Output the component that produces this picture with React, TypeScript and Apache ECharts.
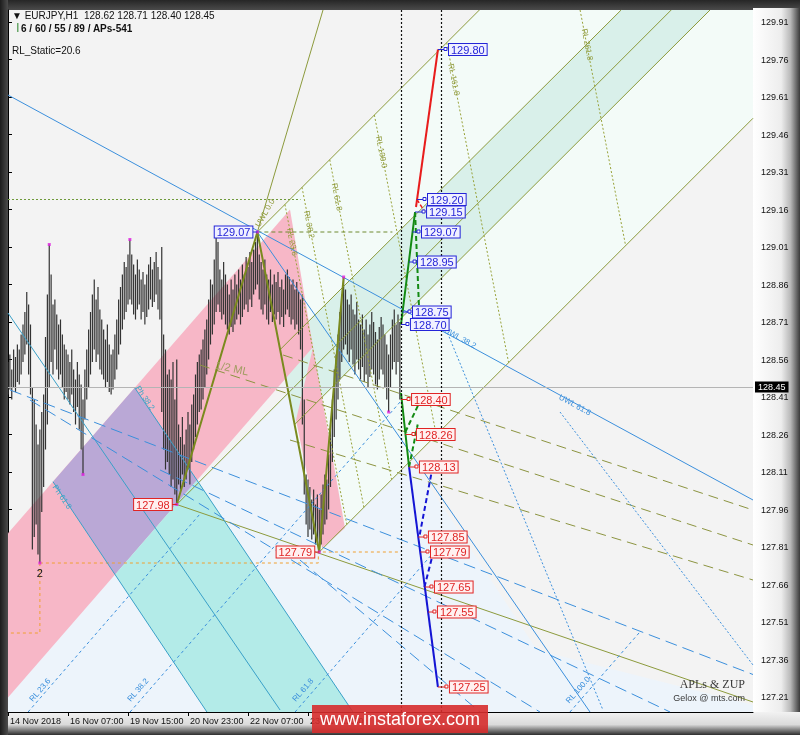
import React, { useEffect, useRef } from 'react';
import * as echarts from 'echarts';

// ---------------- DATA ----------------
// H1 bars: index 0 = 14 Nov 2018 23:00
const barHigh: number[] = [
  128.55, 128.58, 128.52, 128.60, 128.57, 128.62, 128.60,
  128.66, 128.70, 128.75, 128.83,
  128.78, 128.70, 128.45,
  128.40, 128.30, 128.22, 128.28, 128.35, 128.42,
  128.65, 128.82, 129.02,
  128.90, 128.78, 128.80, 128.74, 128.70, 128.72, 128.66, 128.62, 128.60,
  128.58, 128.55, 128.60, 128.52, 128.48, 128.55, 128.50, 128.46, 128.40,
  128.52, 128.60, 128.68, 128.75, 128.82, 128.88, 128.80, 128.85, 128.76,
  128.72, 128.68, 128.64, 128.70, 128.62, 128.58, 128.60, 128.66,
  128.72, 128.80, 128.85, 128.90, 128.95, 128.93, 128.98, 129.04,
  128.98, 128.94, 128.90, 128.96, 128.92, 128.88, 128.91, 128.86, 128.90, 128.94, 128.97, 128.92, 128.95, 128.99, 128.93, 128.88, 129.01,
  128.66, 128.60, 128.50, 128.52, 128.48, 128.55, 128.40, 128.56,
  128.30, 128.25, 128.33, 128.22, 128.28, 128.35, 128.30, 128.38, 128.42, 128.50,
  128.55, 128.58, 128.60, 128.64, 128.68, 128.72, 128.80, 128.88, 128.86, 128.96, 129.05,
  129.03, 128.92, 128.88, 128.95, 128.90, 128.86, 128.82, 128.88, 128.84, 128.90, 128.86, 128.92, 128.88, 128.94, 128.90, 128.97, 128.93, 128.99, 128.95, 129.00, 129.03, 129.07,
  128.98, 128.95, 128.92, 128.96, 128.90, 128.88, 128.92, 128.86, 128.90, 128.87, 128.91, 128.85, 128.88, 128.84, 128.90, 128.92, 128.89, 128.86, 128.88, 128.84, 128.87, 128.83, 128.80,
  128.82, 128.40, 128.10, 128.08, 128.05, 128.00, 128.04, 127.98, 128.02, 127.96,
  128.02, 128.06, 128.10, 128.08, 128.18, 128.30, 128.40, 128.52, 128.58, 128.66, 128.75, 128.82, 128.89,
  128.84, 128.80, 128.78, 128.82, 128.76, 128.74, 128.79, 128.72, 128.70, 128.74, 128.68, 128.72, 128.66, 128.70, 128.75, 128.71, 128.67, 128.64, 128.69, 128.73, 128.70, 128.66, 128.62, 128.58, 128.66, 128.72, 128.76, 128.70, 128.74, 128.71,
];
const barLow: number[] = [
  128.42, 128.44, 128.40, 128.45, 128.43, 128.47, 128.46,
  128.50, 128.55, 128.58, 128.62,
  128.50, 128.42, 127.80,
  127.85, 127.90, 127.78, 127.746, 127.95, 128.05,
  128.20, 128.30, 128.45,
  128.55, 128.50, 128.60, 128.52, 128.48, 128.50, 128.45, 128.40, 128.43,
  128.40, 128.38, 128.42, 128.35, 128.30, 128.37, 128.28, 128.20, 128.10,
  128.32, 128.40, 128.45, 128.50, 128.55, 128.60, 128.55, 128.58, 128.52,
  128.50, 128.48, 128.45, 128.47, 128.43, 128.42, 128.44, 128.48,
  128.52, 128.58, 128.62, 128.68, 128.72, 128.75, 128.78, 128.80,
  128.78, 128.74, 128.72, 128.76, 128.78, 128.72, 128.75, 128.70, 128.73, 128.76, 128.80, 128.77, 128.79, 128.82, 128.76, 128.72, 128.35,
  128.20, 128.12, 128.15, 128.10, 128.05, 128.08, 128.02, 127.98,
  128.06, 128.04, 128.10, 128.05, 128.08, 128.12, 128.06, 128.15, 128.20, 128.25,
  128.30, 128.35, 128.36, 128.40, 128.45, 128.50, 128.56, 128.62, 128.66, 128.70, 128.75,
  128.78, 128.75, 128.72, 128.74, 128.70, 128.68, 128.66, 128.69, 128.67, 128.70, 128.72, 128.74, 128.70, 128.73, 128.76, 128.78, 128.75, 128.80, 128.77, 128.82, 128.84, 128.86,
  128.80, 128.76, 128.74, 128.78, 128.72, 128.70, 128.75, 128.71, 128.74, 128.72, 128.75, 128.70, 128.73, 128.69, 128.74, 128.76, 128.73, 128.70, 128.72, 128.68, 128.70, 128.66, 128.60,
  128.30, 128.02, 127.90, 127.85, 127.88, 127.84, 127.86, 127.82, 127.83, 127.79,
  127.82, 127.86, 127.90, 127.92, 127.96, 128.05, 128.15, 128.25, 128.32, 128.40, 128.48, 128.55, 128.60,
  128.62, 128.58, 128.55, 128.60, 128.54, 128.50, 128.56, 128.52, 128.48, 128.53, 128.47, 128.50, 128.45, 128.49, 128.52, 128.50, 128.46, 128.44, 128.48, 128.52, 128.50, 128.45, 128.40, 128.35, 128.45, 128.52, 128.55, 128.50, 128.55, 128.40,
];

const priceTicks = [127.21, 127.36, 127.51, 127.66, 127.81, 127.96, 128.11, 128.26, 128.41, 128.56, 128.71, 128.86, 129.01, 129.16, 129.31, 129.46, 129.61, 129.76, 129.91];
const timeTickBars = [0, 32, 64, 96, 128, 160];
const timeTickLabels = ['14 Nov 2018', '16 Nov 07:00', '19 Nov 15:00', '20 Nov 23:00', '22 Nov 07:00', '23 Nov 15:00'];

const lastPrice = 128.45;
const nowBar = 209.6;
const targetBar = 230.8;

// ZUP zigzag pivots [bar, price]
const zupPivots = [[90, 127.98], [133, 129.07], [166, 127.79], [179, 128.89]];
const swingDots = [[22, 129.02], [40, 128.10], [65, 129.04], [179, 128.89], [203, 128.35], [17, 127.746], [90, 127.98], [166, 127.79], [133, 129.07]];

// zones (bar, price)
const zoneLightBlue = [[0, 127.31], [174.9, 128.622], [282.1, 127.398], [397.33, 127.178], [397.33, 127.15], [0, 127.15]];
const zoneFork = [[133, 129.07], [251.4, 129.958], [397.33, 129.958], [397.33, 129.525], [166, 127.79]];
const zoneForkBand = [[145.2, 128.6], [327, 129.958], [374.4, 129.958], [152.9, 128.3]];
const zonePink = [[0, 127.865], [150.4, 129.16], [162.7, 128.61], [0, 127.208]];
const zonePink2 = [[162.7, 128.61], [179.7, 127.886], [167.5, 127.806], [153.6, 128.318]];
const zonePurple = [[67.6, 128.447], [100.8, 128.078], [57.1, 127.7], [24.0, 128.071]];
const zoneTeal = [[100.8, 128.078], [184, 127.15], [106.1, 127.15], [57.1, 127.7]];

// pitchfork lines
const forkA = [[133, 129.07], [251.4, 129.958]];
const forkB = [[145.2, 128.6], [327, 129.958]];
const forkC = [[90, 127.98], [353.7, 129.958]];
const forkD = [[152.9, 128.3], [374.4, 129.958]];
const forkE = [[166, 127.79], [397.33, 129.525]];
const handleExt = [[133, 129.07], [168, 129.958]];
const lowLine = [[90, 127.98], [397.33, 127.19]];
const reactionLines = [
  [[147.7, 129.18], [180.7, 127.9]],
  [[156.8, 129.249], [189.8, 127.969]],
  [[171.6, 129.359], [204.6, 128.079]],
  [[195.4, 129.538], [228.4, 128.258]],
  [[234, 129.827], [267, 128.547]],
  [[305.1, 129.958], [329.4, 129.015]],
];
const halfMl = [
  [[146.7, 128.578], [397.33, 127.958]],
  [[102.4, 128.538], [397.33, 127.818]],
  [[150.4, 128.238], [397.33, 127.678]],
];
const level1292 = [[0, 129.2], [156, 129.2]];
const peakLevel = [[133, 129.07], [205, 129.07]];
const orangeA = [[17, 127.746], [165.5, 127.746], [165.5, 127.79], [209.6, 127.79]];
const orangeB = [[17, 127.746], [17, 127.466], [0, 127.466]];

const blueSolid = [
  [[0, 129.618], [397.33, 127.998]],
  [[133, 129.07], [310.4, 127.15]],
];
const tealSolid = [
  [[0, 128.746], [145.1, 127.158]],
  [[67.6, 128.447], [184, 127.15]],
  [[24.0, 128.071], [106.1, 127.15]],
];
const blueDotted = [
  [[232, 128.71], [317.3, 127.158]],
  [[294.4, 128.35], [397.33, 127.338]],
];
const blueShortDash = [
  [[10.7, 127.15], [102.4, 127.942]],
  [[65.1, 127.15], [209.1, 128.39]],
  [[153.1, 127.15], [230.4, 127.818]],
  [[299.7, 127.15], [337, 127.47]],
];
const blueLongDash = [
  [[1.1, 128.438], [397.33, 127.3]],
  [[11.7, 128.398], [283.7, 127.15]],
  [[81.1, 128.118], [353.1, 127.15]],
  [[155.7, 127.758], [251.7, 127.15]],
];

// projections
const projGreenUp = [[209.6, 128.7], [217.1, 129.15]];
const projRedUp = [[217.6, 129.17], [229.3, 129.8]];
const projGreenUpDash = [[217.1, 129.15], [219.2, 128.77]];
const projRedUpDash = [[218.1, 129.2], [222.4, 129.15]];
const projGreenDown = [[209.6, 128.426], [213.9, 128.13]];
const projGreenDownDash = [
  [[213.9, 128.13], [218.5, 128.3]],
  [[211.9, 128.27], [221.5, 128.42]],
];
const projBlueDown = [[213.9, 128.13], [229.3, 127.25]];
const projBlueDownDash = [
  [[219.6, 127.86], [226.2, 128.12]],
  [[222.1, 127.65], [227.2, 127.8]],
];

// [price, target bar, box bar]
const upLabels = [[129.8, 229.3, 235.2], [129.2, 218.1, 224.0], [129.15, 217.1, 223.5], [129.07, 215.8, 220.8], [128.95, 213.8, 218.7], [128.75, 210.4, 216.0], [128.7, 209.6, 214.9]];
const downLabels = [[128.4, 209.6, 215.5], [128.26, 212.0, 218.1], [128.13, 213.9, 219.7], [127.85, 218.8, 224.5], [127.79, 219.9, 225.6], [127.65, 222.3, 227.7], [127.55, 224.1, 229.3], [127.25, 229.3, 235.7]];
// [price, pivot bar, colour kind]
const pivotLabels: [number, number, string][] = [[129.07, 133, 'up'], [127.98, 90, 'down'], [127.79, 166, 'down']];

// [text, bar, price, rotation deg, kind]
const annotations: [string, number, number, number, string][] = [
  ['UWL 0.0', 137.1, 129.146, 60, 'olive'],
  ['RL 23.6', 151.5, 129.03, -79, 'olive'],
  ['RL 38.2', 160.6, 129.1, -79, 'olive'],
  ['RL 61.8', 175.4, 129.21, -79, 'olive'],
  ['RL 100.0', 199.2, 129.39, -79, 'olive'],
  ['RL 161.8', 237.8, 129.68, -79, 'olive'],
  ['RL 261.8', 308.9, 129.82, -79, 'olive'],
  ['UWL 38.2', 241.1, 128.646, -29, 'blue'],
  ['UWL 61.8', 302.4, 128.378, -29, 'blue'],
  ['Ph 38.2', 73.1, 128.406, -56, 'teal'],
  ['Ph 61.8', 28.8, 128.01, -56, 'teal'],
  ['RL 23.6', 17.1, 127.238, 49, 'blue'],
  ['RL 38.2', 69.3, 127.238, 49, 'blue'],
  ['RL 61.8', 157.3, 127.238, 49, 'blue'],
  ['RL 100.0', 304, 127.238, 49, 'blue'],
];
const halfMlLabel: [string, number, number] = ['1/2 ML', 119.5, 128.526];
const waveLabel: [string, number, number] = ['2', 17, 127.73];

// ---------------- CHART ----------------
const OLIVE = '#8c9a3c';
const BLUE = '#3b8fdc';
const TEAL = '#3aa0c8';
const LBL_BLUE = '#2424d8';
const LBL_RED = '#e02424';
const FONT = '"Liberation Sans", "DejaVu Sans", sans-serif';

function lineS(pts: number[][], color: string, width: number, type: any = 'solid', z = 3): any {
  return {
    type: 'line', data: pts, symbol: 'none', silent: true, clip: true, z,
    lineStyle: { color, width, type }, emphasis: { disabled: true },
  };
}

function zoneS(pts: number[][], fill: string, z: number): any {
  return {
    type: 'custom', coordinateSystem: 'cartesian2d', clip: true, silent: true, z,
    data: [[pts[0][0], pts[0][1]]],
    renderItem: (_p: any, api: any) => ({
      type: 'polygon',
      shape: { points: pts.map((q) => api.coord(q)) },
      style: { fill },
    }),
  };
}

function buildOption(): any {
  const series: any[] = [];
  series.push(zoneS(zoneLightBlue, '#edf4fb', 1));
  series.push(zoneS(zoneFork, '#f3fbf8', 1));
  series.push(zoneS(zoneForkBand, '#d9f0ea', 1));
  series.push(zoneS(zonePink, '#f7b7c7', 1));
  series.push(zoneS(zonePink2, '#f7b7c7', 1));
  series.push(zoneS(zonePurple, '#baa8d6', 1));
  series.push(zoneS(zoneTeal, '#b3ebe8', 1));

  // price bars
  series.push({
    type: 'custom', coordinateSystem: 'cartesian2d', clip: true, silent: true, z: 2,
    data: barHigh.map((h, i) => [i, h, barLow[i]]),
    encode: { x: 0, y: [1, 2] },
    renderItem: (_p: any, api: any) => {
      const hi = api.coord([api.value(0), api.value(1)]);
      const lo = api.coord([api.value(0), api.value(2)]);
      return {
        type: 'line',
        shape: { x1: hi[0], y1: hi[1], x2: lo[0], y2: lo[1] },
        style: { stroke: '#333333', lineWidth: 1.2 },
      };
    },
  });

  // lines
  series.push(lineS(forkA, OLIVE, 1));
  series.push(lineS(forkB, OLIVE, 1));
  series.push(lineS(forkC, OLIVE, 1));
  series.push(lineS(forkD, OLIVE, 1));
  series.push(lineS(forkE, OLIVE, 1));
  series.push(lineS(handleExt, OLIVE, 1));
  series.push(lineS(lowLine, OLIVE, 1));
  reactionLines.forEach((l) => series.push(lineS(l, '#98a23a', 1, [2, 2])));
  halfMl.forEach((l) => series.push(lineS(l, '#8c9440', 1, [10, 6])));
  series.push(lineS(level1292, '#6f9a3a', 1, [2, 2]));
  series.push(lineS(peakLevel, '#6f8a30', 1, [4, 3]));
  series.push(lineS(orangeA, '#f0a030', 1, [3, 3]));
  series.push(lineS(orangeB, '#f0a030', 1, [3, 3]));
  blueSolid.forEach((l) => series.push(lineS(l, BLUE, 1)));
  tealSolid.forEach((l) => series.push(lineS(l, TEAL, 1)));
  blueDotted.forEach((l) => series.push(lineS(l, BLUE, 1, [2, 2])));
  blueShortDash.forEach((l) => series.push(lineS(l, BLUE, 1, [3, 3])));
  blueLongDash.forEach((l) => series.push(lineS(l, BLUE, 1, [12, 6])));

  // ZUP zigzag with current price and vertical markers
  series.push({
    ...lineS(zupPivots, '#7a8a1e', 2, 'solid', 4),
    markLine: {
      silent: true, symbol: 'none', animation: false,
      data: [
        { yAxis: lastPrice, lineStyle: { color: '#b4b4b4', width: 1, type: 'solid' },
          label: { show: true, position: 'end', formatter: lastPrice.toFixed(2), backgroundColor: '#000', color: '#fff', padding: [1, 3, 1, 3], fontSize: 9, fontFamily: FONT, distance: 2 } },
        { xAxis: nowBar, lineStyle: { color: '#111', width: 1.2, type: [2, 2] }, label: { show: false } },
        { xAxis: targetBar, lineStyle: { color: '#111', width: 1.2, type: [2, 2] }, label: { show: false } },
      ],
    },
  });

  series.push(lineS(projGreenUp, '#138a13', 2, 'solid', 4));
  series.push(lineS(projRedUp, '#e81c1c', 2, 'solid', 4));
  series.push(lineS(projGreenUpDash, '#138a13', 2, [5, 3], 4));
  series.push(lineS(projRedUpDash, '#e81c1c', 1.5, [4, 2], 4));
  series.push(lineS(projGreenDown, '#138a13', 2, 'solid', 4));
  projGreenDownDash.forEach((l) => series.push(lineS(l, '#138a13', 2, [5, 3], 4)));
  series.push(lineS(projBlueDown, '#1414d4', 2, 'solid', 4));
  projBlueDownDash.forEach((l) => series.push(lineS(l, '#1414d4', 2, [5, 3], 4)));

  // swing dots
  series.push({
    type: 'scatter', data: swingDots, symbol: 'rect', symbolSize: 3, silent: true, z: 5,
    itemStyle: { color: '#e020e0' },
  });

  // projection price labels
  const projLabels = [
    ...upLabels.map((l) => ({ price: l[0], target: l[1], box: l[2], kind: 'up' })),
    ...downLabels.map((l) => ({ price: l[0], target: l[1], box: l[2], kind: 'down' })),
  ];
  series.push({
    type: 'custom', coordinateSystem: 'cartesian2d', clip: false, silent: true, z: 6,
    data: projLabels.map((l) => [l.box, l.price]),
    renderItem: (params: any, api: any) => {
      const L = projLabels[params.dataIndex];
      const col = L.kind === 'up' ? LBL_BLUE : LBL_RED;
      const bg = L.kind === 'up' ? '#f0f0ff' : '#fff0f0';
      const t = api.coord([L.target, L.price]);
      const b = api.coord([L.box, L.price]);
      return {
        type: 'group',
        children: [
          { type: 'line', shape: { x1: t[0], y1: t[1], x2: b[0] - 3, y2: b[1] }, style: { stroke: col, lineWidth: 1 } },
          { type: 'rect', shape: { x: b[0] - 5, y: b[1] - 2, width: 3, height: 3 }, style: { fill: '#fff', stroke: col, lineWidth: 1 } },
          { type: 'text', x: b[0], y: b[1], style: { text: L.price.toFixed(2), fill: col, font: `11px ${FONT}`, align: 'left', verticalAlign: 'middle', backgroundColor: bg, borderColor: col, borderWidth: 1, padding: [0, 2, 0, 2] } },
        ],
      };
    },
  });

  // pivot labels
  series.push({
    type: 'custom', coordinateSystem: 'cartesian2d', clip: false, silent: true, z: 6,
    data: pivotLabels.map((l) => [l[1], l[0]]),
    renderItem: (params: any, api: any) => {
      const L = pivotLabels[params.dataIndex];
      const col = L[2] === 'up' ? LBL_BLUE : LBL_RED;
      const bg = L[2] === 'up' ? '#f0f0ff' : '#fff0f0';
      const p = api.coord([L[1], L[0]]);
      return {
        type: 'group',
        children: [
          { type: 'line', shape: { x1: p[0], y1: p[1], x2: p[0] - 5, y2: p[1] }, style: { stroke: col, lineWidth: 1 } },
          { type: 'text', x: p[0] - 5, y: p[1], style: { text: L[0].toFixed(2), fill: col, font: `11px ${FONT}`, align: 'right', verticalAlign: 'middle', backgroundColor: bg, borderColor: col, borderWidth: 1, padding: [0, 2, 0, 2] } },
        ],
      };
    },
  });

  // annotations
  const annColors: Record<string, string> = { olive: '#8f9a3a', blue: '#3b8fdc', teal: '#3aa6c8' };
  series.push({
    type: 'custom', coordinateSystem: 'cartesian2d', clip: true, silent: true, z: 5,
    data: annotations.map((a) => [a[1], a[2]]),
    renderItem: (params: any, api: any) => {
      const A = annotations[params.dataIndex];
      const p = api.coord([A[1], A[2]]);
      return {
        type: 'text', x: p[0], y: p[1], rotation: (A[3] * Math.PI) / 180,
        style: { text: A[0], fill: annColors[A[4]], font: `8px ${FONT}`, align: 'center', verticalAlign: 'middle' },
      };
    },
  });
  series.push({
    type: 'custom', coordinateSystem: 'cartesian2d', clip: true, silent: true, z: 5,
    data: [[halfMlLabel[1], halfMlLabel[2]], [waveLabel[1], waveLabel[2]]],
    renderItem: (params: any, api: any) => {
      if (params.dataIndex === 0) {
        const p = api.coord([halfMlLabel[1], halfMlLabel[2]]);
        return { type: 'text', x: p[0], y: p[1], rotation: (-12 * Math.PI) / 180,
          style: { text: halfMlLabel[0], fill: '#a29c62', font: `11px ${FONT}`, align: 'center', verticalAlign: 'middle' } };
      }
      const p = api.coord([waveLabel[1], waveLabel[2]]);
      return { type: 'text', x: p[0], y: p[1], style: { text: waveLabel[0], fill: '#111', font: `11px ${FONT}`, align: 'center', verticalAlign: 'top' } };
    },
  });

  const graphic: any[] = [
    { type: 'rect', z: -10, shape: { x: 0, y: 0, width: 800, height: 10 },
      style: { fill: new echarts.graphic.LinearGradient(0, 0, 0, 1, [{ offset: 0, color: '#262626' }, { offset: 1, color: '#4a4a4a' }]) } },
    { type: 'rect', z: -10, shape: { x: 0, y: 0, width: 8, height: 735 },
      style: { fill: new echarts.graphic.LinearGradient(0, 0, 1, 0, [{ offset: 0, color: '#1c1c1c' }, { offset: 1, color: '#4c4c4c' }]) } },
    { type: 'rect', z: -10, shape: { x: 753, y: 8, width: 47, height: 727 },
      style: { fill: new echarts.graphic.LinearGradient(0, 0, 1, 0, [{ offset: 0, color: '#ffffff' }, { offset: 0.6, color: '#ededed' }, { offset: 0.8, color: '#b8b8b8' }, { offset: 1, color: '#3a3a3a' }]) } },
    { type: 'rect', z: -10, shape: { x: 8, y: 712, width: 792, height: 23 },
      style: { fill: new echarts.graphic.LinearGradient(0, 0, 0, 1, [{ offset: 0, color: '#f2f2f2' }, { offset: 0.55, color: '#dadada' }, { offset: 0.75, color: '#8a8a8a' }, { offset: 1, color: '#2e2e2e' }]) } },
    { type: 'text', z: 50, x: 12, y: 10, style: { text: '▼ EURJPY,H1  128.62 128.71 128.40 128.45', fill: '#111', font: `10px ${FONT}` } },
    { type: 'rect', z: 50, shape: { x: 17, y: 23, width: 1.5, height: 9 }, style: { fill: '#6aa86a' } },
    { type: 'text', z: 50, x: 21, y: 23, style: { text: '6 / 60 / 55 / 89 / APs-541', fill: '#111', font: `bold 10px ${FONT}` } },
    { type: 'text', z: 50, x: 12, y: 45, style: { text: 'RL_Static=20.6', fill: '#111', font: `10px ${FONT}` } },
    { type: 'text', z: 50, x: 745, y: 684, style: { text: 'APLs & ZUP', fill: '#3a3a3a', font: '12px "Liberation Serif", serif', align: 'right', verticalAlign: 'middle' } },
    { type: 'text', z: 50, x: 745, y: 698, style: { text: 'Gelox @ mts.com', fill: '#3a3a3a', font: `9px ${FONT}`, align: 'right', verticalAlign: 'middle' } },
    { type: 'rect', z: 100, shape: { x: 312, y: 705, width: 176, height: 28 }, style: { fill: 'rgba(214,44,44,0.9)' } },
    { type: 'text', z: 101, x: 400, y: 719, style: { text: 'www.instaforex.com', fill: '#ffffff', font: `18px ${FONT}`, align: 'center', verticalAlign: 'middle' } },
  ];

  return {
    animation: false,
    backgroundColor: 'transparent',
    grid: { left: 8, right: 47, top: 10, bottom: 23, show: true, backgroundColor: '#f3f3f3', borderWidth: 0 },
    xAxis: {
      type: 'value', min: 0, max: 397.33, position: 'bottom',
      axisLine: { show: true, lineStyle: { color: '#000', width: 1 } },
      axisTick: { show: true, customValues: timeTickBars, length: 4, lineStyle: { color: '#000' } },
      axisLabel: {
        show: true, customValues: timeTickBars, align: 'left', margin: 4, padding: [0, 0, 0, 2],
        color: '#111', fontSize: 9, fontFamily: FONT,
        formatter: (v: number) => timeTickLabels[timeTickBars.indexOf(Math.round(v))] || '',
      },
      splitLine: { show: false },
    },
    yAxis: {
      type: 'value', min: 127.15, max: 129.958, position: 'right', scale: true,
      axisLine: { show: true, lineStyle: { color: '#000', width: 1 } },
      axisTick: { show: true, customValues: priceTicks, length: 4, lineStyle: { color: '#000' } },
      axisLabel: { show: true, customValues: priceTicks, margin: 8, color: '#111', fontSize: 9, fontFamily: FONT, formatter: (v: number) => v.toFixed(2) },
      splitLine: { show: false },
    },
    graphic,
    series,
  };
}

export default function App() {
  const ref = useRef<HTMLDivElement>(null);
  useEffect(() => {
    if (!ref.current) return;
    const chart = echarts.init(ref.current, null, { renderer: 'svg' });
    chart.setOption(buildOption());
    return () => chart.dispose();
  }, []);
  return <div ref={ref} style={{ position: 'fixed', left: 0, top: 0, width: 800, height: 735 }} />;
}
